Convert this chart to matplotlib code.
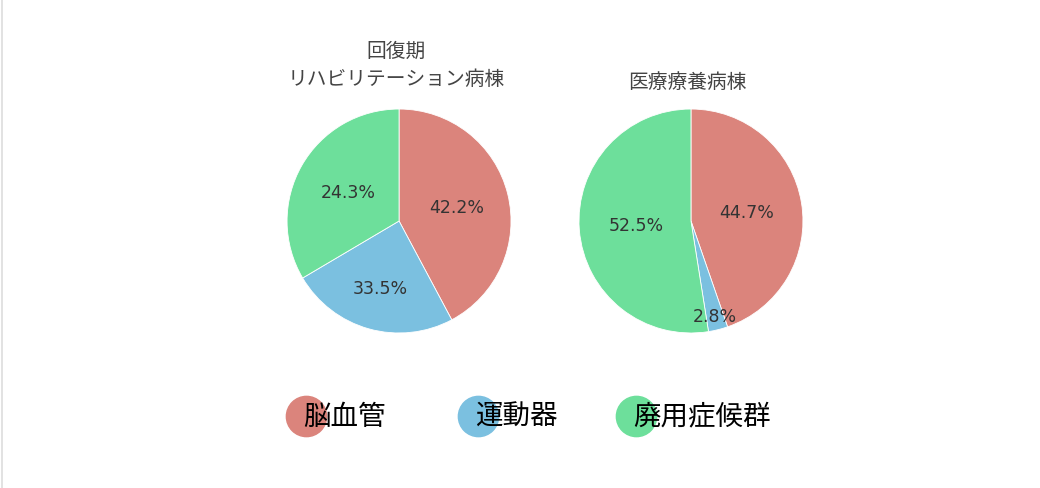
import numpy as np
import matplotlib.pyplot as plt
from matplotlib.lines import Line2D

plt.rcParams['font.family'] = ['Noto Sans CJK JP', 'DejaVu Sans']

categories = ["脳血管", "運動器", "廃用症候群"]
colors = ["#db847c", "#7bc0e0", "#6ddf9b"]

# 回復期リハビリテーション病棟
left_title = "回復期\nリハビリテーション病棟"
left_sizes = [42.2, 24.3, 33.5]
left_labels = ["42.2%", "33.5%", "24.3%"]

# 医療療養病棟
right_title = "医療療養病棟"
right_sizes = [44.7, 2.8, 52.5]
right_labels = ["44.7%", "2.8%", "52.5%"]

fig = plt.figure(figsize=(10.4, 4.89), dpi=100)

ax1 = fig.add_axes([0.276, 0.317, 0.2154, 0.458])
ax2 = fig.add_axes([0.5567, 0.317, 0.2154, 0.458])


def draw_pie(ax, sizes, labels, dists):
    wedges, _ = ax.pie(
        sizes,
        colors=colors,
        startangle=90,
        counterclock=False,
        wedgeprops=dict(edgecolor="white", linewidth=0.6),
    )
    for w, lab, d in zip(wedges, labels, dists):
        ang = np.deg2rad((w.theta1 + w.theta2) / 2)
        ax.text(d * np.cos(ang), d * np.sin(ang), lab,
                ha="center", va="center", fontsize=12.5, color="#333333",
                family=["DejaVu Sans"])
    ax.set_xlim(-1, 1)
    ax.set_ylim(-1, 1)
    ax.set_aspect("equal")


draw_pie(ax1, left_sizes, left_labels, [0.53, 0.62, 0.52])
draw_pie(ax2, right_sizes, right_labels, [0.5, 0.87, 0.49])

fig.text(0.381, 1 - 65 / 489, left_title, ha="center", va="center",
         fontsize=14.2, color="#444444", linespacing=1.45)
fig.text(0.661, 1 - 83 / 489, right_title, ha="center", va="center",
         fontsize=14.2, color="#444444")

# legend
leg_x = [306, 478, 636]
leg_y = 1 - 417 / 489
for x, c, name in zip(leg_x, colors, categories):
    fig.add_artist(Line2D([x / 1040], [leg_y], marker="o", markersize=29,
                          color=c, linestyle="none", transform=fig.transFigure))
    fig.text(x / 1040 - 0.003, leg_y, name, ha="left", va="center",
             fontsize=19.8, color="black")

fig.add_artist(Line2D([0.0015, 0.0015], [0, 1], color="#dddddd",
                      linewidth=1.2, transform=fig.transFigure))

fig.savefig("out.png", dpi=100)
